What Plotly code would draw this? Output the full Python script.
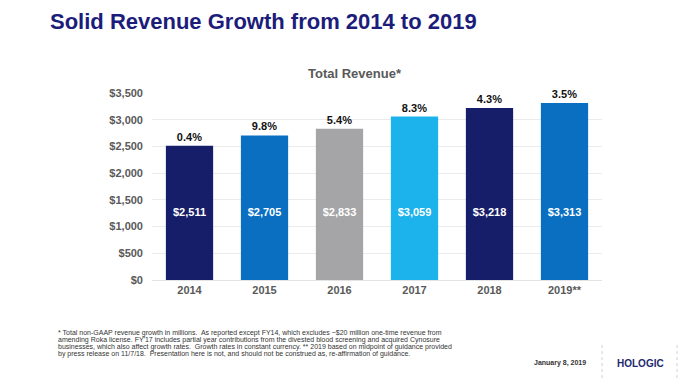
import plotly.graph_objects as go

years = ["2014", "2015", "2016", "2017", "2018", "2019**"]
revenue = [2511, 2705, 2833, 3059, 3218, 3313]
value_labels = ["$2,511", "$2,705", "$2,833", "$3,059", "$3,218", "$3,313"]
growth_labels = ["0.4%", "9.8%", "5.4%", "8.3%", "4.3%", "3.5%"]
bar_colors = ["#161E6A", "#0A6FC1", "#A5A5A7", "#1CB2EC", "#161E6A", "#0A6FC1"]
y_ticks = [0, 500, 1000, 1500, 2000, 2500, 3000, 3500]
y_tick_labels = ["$0", "$500", "$1,000", "$1,500", "$2,000", "$2,500", "$3,000", "$3,500"]
inner_label_y = 1250

title_text = "Solid Revenue Growth from 2014 to 2019"
subtitle_text = "Total Revenue*"
footnote_lines = [
    "* Total non-GAAP revenue growth in millions.  As reported except FY14, which excludes ~$20 million one-time revenue from",
    "amending Roka license. FY'17 includes partial year contributions from the divested blood screening and acquired Cynosure",
    "businesses, which also affect growth rates.  Growth rates in constant currency. ** 2019 based on midpoint of guidance provided",
    "by press release on 11/7/18.  Presentation here is not, and should not be construed as, re-affirmation of guidance.",
]
date_text = "January 8, 2019"
logo_text = "HOLOGIC"

FONT = "Liberation Sans"

fig = go.Figure()
fig.add_trace(go.Bar(
    x=years, y=revenue, marker=dict(color=bar_colors, line=dict(width=0)),
    text=["<b>%s</b>" % t for t in growth_labels], textposition="outside",
    textfont=dict(family=FONT, size=11, color="#111111"),
    cliponaxis=False, width=0.63, hoverinfo="skip",
))
fig.add_trace(go.Scatter(
    x=years, y=[inner_label_y] * len(years), mode="text",
    text=["<b>%s</b>" % t for t in value_labels],
    textfont=dict(family=FONT, size=11, color="white"),
    hoverinfo="skip",
))

annotations = [
    dict(text="<b>%s</b>" % title_text, xref="paper", yref="paper",
         x=-0.231, y=1.38, xanchor="left", yanchor="middle", showarrow=False,
         font=dict(size=22, color="#1C1C7A", family=FONT)),
    dict(text="<b>%s</b>" % subtitle_text, xref="paper", yref="paper", x=0.451, y=1.102,
         xanchor="center", yanchor="middle", showarrow=False,
         font=dict(size=13, color="#595959", family=FONT)),
    dict(text="<b>%s</b>" % date_text, xref="paper", yref="paper", x=0.844, y=-0.444,
         xanchor="left", yanchor="middle", showarrow=False,
         font=dict(size=7, color="#333333", family=FONT)),
    dict(text="<b>%s</b>" % logo_text, xref="paper", yref="paper", x=1.029, y=-0.444,
         xanchor="left", yanchor="middle", showarrow=False,
         font=dict(size=10, color="#22296B", family=FONT)),
]
foot_y = [-0.2834, -0.3212, -0.3590, -0.3968]
for line, yy in zip(footnote_lines, foot_y):
    annotations.append(dict(text=line, xref="paper", yref="paper", x=-0.2133, y=yy,
                            xanchor="left", yanchor="middle", align="left", showarrow=False,
                            font=dict(size=7, color="#333333", family=FONT)))

fig.update_layout(
    width=680, height=374, showlegend=False,
    margin=dict(l=144, r=86, t=85, b=102),
    plot_bgcolor="white", paper_bgcolor="white",
    font=dict(family=FONT, color="#595959"),
    xaxis=dict(showgrid=False, showline=True, linecolor="#E3E3E3", linewidth=1,
               tickvals=years, ticktext=["<b>%s</b>" % y for y in years],
               tickfont=dict(size=11, color="#595959", family=FONT), ticks=""),
    yaxis=dict(range=[0, 3500], tickvals=y_ticks, ticktext=["<b>%s</b>" % t for t in y_tick_labels],
               showgrid=True, gridcolor="#EBEBEB", zeroline=False,
               tickfont=dict(size=11, color="#595959", family=FONT), ticks="",
               ticklabelstandoff=8),
    annotations=annotations,
    shapes=[
        dict(type="line", xref="paper", yref="paper", x0=1.0, x1=1.0, y0=-0.348, y1=-0.535,
             line=dict(color="#D0D0D0", width=1, dash="dot")),
        dict(type="line", xref="paper", yref="paper", x0=1.1667, x1=1.1667, y0=-0.348, y1=-0.535,
             line=dict(color="#D0D0D0", width=1, dash="dot")),
    ],
)
fig.write_html("out.html")
